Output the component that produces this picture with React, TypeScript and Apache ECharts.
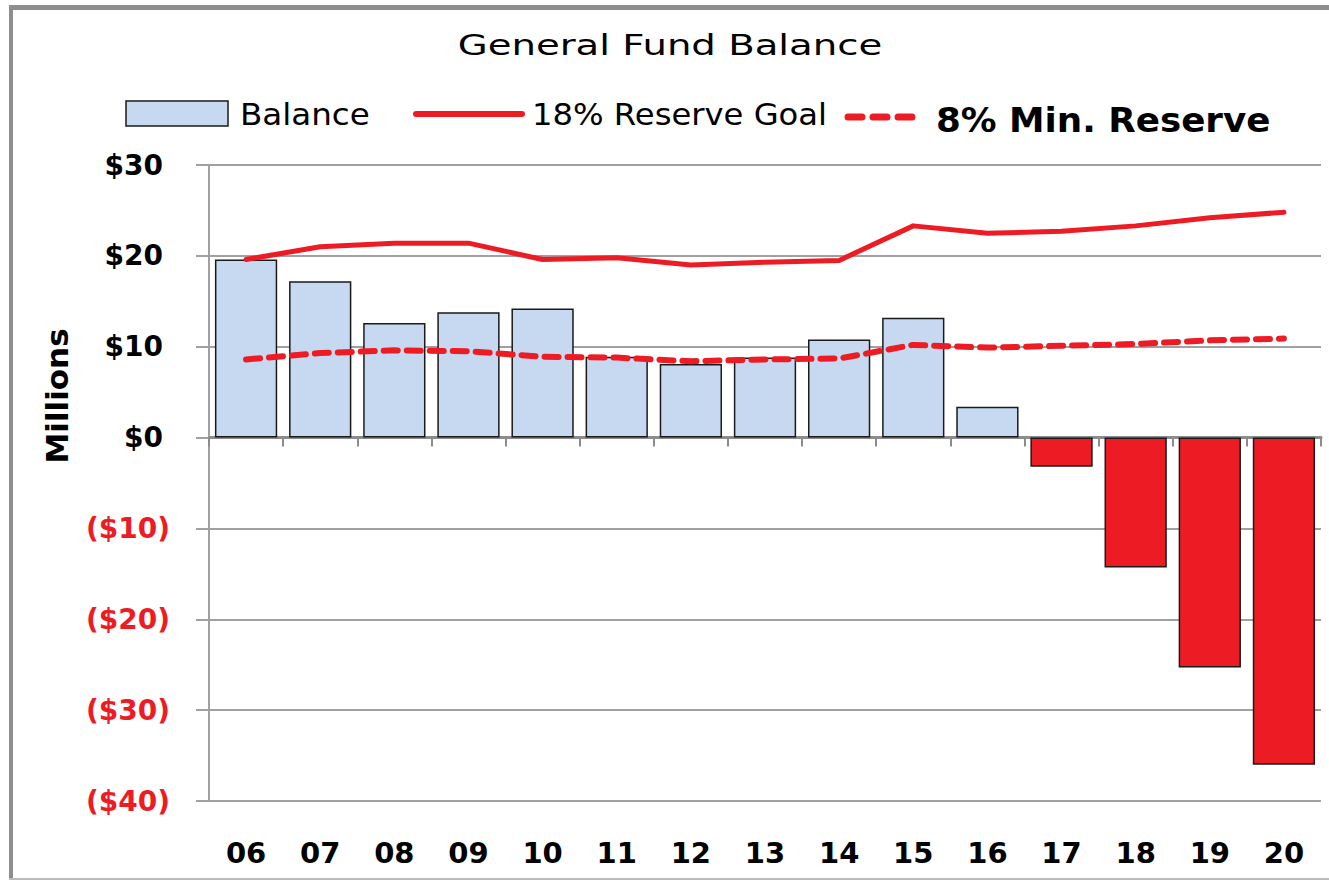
import React, { useEffect, useRef } from "react";
import * as echarts from "echarts";

const categories = ["06", "07", "08", "09", "10", "11", "12", "13", "14", "15", "16", "17", "18", "19", "20"];
const balance = [19.6, 17.2, 12.6, 13.8, 14.2, 8.9, 8.1, 8.8, 10.8, 13.2, 3.4, -3.2, -14.3, -25.3, -36.0];
const reserveGoal = [19.6, 21.0, 21.4, 21.4, 19.6, 19.8, 19.0, 19.3, 19.5, 23.3, 22.5, 22.7, 23.3, 24.2, 24.8];
const minReserve = [8.6, 9.3, 9.6, 9.5, 8.9, 8.8, 8.4, 8.6, 8.7, 10.2, 9.9, 10.1, 10.3, 10.7, 10.9];
const yTicks = { min: -40, max: 30, interval: 10 };

const RED = "#ED1C24";
const BLUE = "#C6D9F0";
const GRAY = "#A0A0A0";
const FONT = "'DejaVu Sans', sans-serif";

export default function App() {
  const ref = useRef<HTMLDivElement>(null);
  useEffect(() => {
    document.body.style.margin = "0";
    const chart = echarts.init(ref.current!, null, { renderer: "svg" });
    chart.setOption({
      animation: false,
      backgroundColor: "#fff",
      grid: { left: 209, right: 8, top: 165, bottom: 79, containLabel: false },
      xAxis: [
        {
          type: "category",
          data: categories,
          position: "top",
          boundaryGap: true,
          axisLine: { show: true, onZero: true, lineStyle: { color: "#8C8C8C", width: 3 } },
          axisTick: { show: true, inside: true, length: 9, interval: 0, lineStyle: { color: "#8C8C8C", width: 2 } },
          axisLabel: { show: false },
          splitLine: { show: false },
        },
        {
          type: "category",
          data: categories,
          position: "bottom",
          boundaryGap: true,
          axisLine: { show: false, onZero: false },
          axisTick: { show: false },
          axisLabel: { show: true, interval: 0, margin: 37, fontSize: 29, fontWeight: "bold", color: "#000", fontFamily: FONT },
          splitLine: { show: false },
        },
      ],
      yAxis: {
        type: "value",
        min: yTicks.min,
        max: yTicks.max,
        interval: yTicks.interval,
        axisLine: { show: true, lineStyle: { color: GRAY, width: 2 } },
        axisTick: { show: true, length: 13, lineStyle: { color: GRAY, width: 2 } },
        splitLine: { show: true, lineStyle: { color: GRAY, width: 2 } },
        axisLabel: {
          margin: 39,
          fontSize: 28,
          fontWeight: "bold",
          fontFamily: FONT,
          formatter: (v: number) => (v < 0 ? `($${-v})` : `$${v}{p| }`),
          color: (v: any) => (Number(v) < 0 ? RED : "#000"),
          rich: {
            p: { width: 7, fontSize: 28, fontWeight: "bold", fontFamily: FONT },
          },
        },
      },
      series: [
        {
          name: "Balance",
          type: "bar",
          xAxisIndex: 0,
          barCategoryGap: "16%",
          data: balance.map((v) => ({
            value: v,
            itemStyle: { color: v < 0 ? RED : BLUE, borderColor: "#1a1a1a", borderWidth: 1.5 },
          })),
          z: 2,
        },
        {
          name: "18% Reserve Goal",
          type: "line",
          xAxisIndex: 0,
          data: reserveGoal,
          symbol: "none",
          lineStyle: { color: RED, width: 5, cap: "round", join: "round" },
          z: 3,
        },
        {
          name: "8% Min. Reserve",
          type: "line",
          xAxisIndex: 0,
          data: minReserve,
          symbol: "none",
          lineStyle: { color: RED, width: 6, type: [14, 9], cap: "round", join: "round" },
          z: 3,
        },
      ],
      graphic: [
        { type: "line", shape: { x1: 9, y1: 7.5, x2: 1329, y2: 7.5 }, style: { stroke: "#8E8E8E", lineWidth: 5 } },
        { type: "line", shape: { x1: 11, y1: 5, x2: 11, y2: 880 }, style: { stroke: "#8E8E8E", lineWidth: 4 } },
        { type: "line", shape: { x1: 9, y1: 879, x2: 1329, y2: 879 }, style: { stroke: "#BBBBBB", lineWidth: 2 } },
        {
          type: "text",
          x: 670,
          y: 45,
          scaleX: 1.38,
          style: { text: "General Fund Balance", fill: "#000", font: `28px ${FONT}`, textAlign: "center", textVerticalAlign: "middle" },
        },
        { type: "rect", shape: { x: 126, y: 101, width: 102, height: 25 }, style: { fill: BLUE, stroke: "#1a1a1a", lineWidth: 1.5 } },
        {
          type: "text",
          x: 240,
          y: 114,
          scaleX: 1.05,
          style: { text: "Balance", fill: "#000", font: `31px ${FONT}`, textAlign: "left", textVerticalAlign: "middle" },
        },
        { type: "line", shape: { x1: 416, y1: 114, x2: 522, y2: 114 }, style: { stroke: RED, lineWidth: 6, lineCap: "round" } },
        {
          type: "text",
          x: 532,
          y: 114,
          scaleX: 1.04,
          style: { text: "18% Reserve Goal", fill: "#000", font: `31px ${FONT}`, textAlign: "left", textVerticalAlign: "middle" },
        },
        {
          type: "line",
          shape: { x1: 848, y1: 117, x2: 912, y2: 117 },
          style: { stroke: RED, lineWidth: 7, lineCap: "round", lineDash: [14, 11] },
        },
        {
          type: "text",
          x: 936,
          y: 120,
          scaleX: 1.05,
          style: { text: "8% Min. Reserve", fill: "#000", font: `bold 34px ${FONT}`, textAlign: "left", textVerticalAlign: "middle" },
        },
        {
          type: "text",
          x: 57,
          y: 396,
          rotation: Math.PI / 2,
          style: { text: "Millions", fill: "#000", font: `bold 31px ${FONT}`, textAlign: "center", textVerticalAlign: "middle" },
        },
      ],
    });
    return () => chart.dispose();
  }, []);
  return <div ref={ref} style={{ width: 1329, height: 880 }} />;
}
